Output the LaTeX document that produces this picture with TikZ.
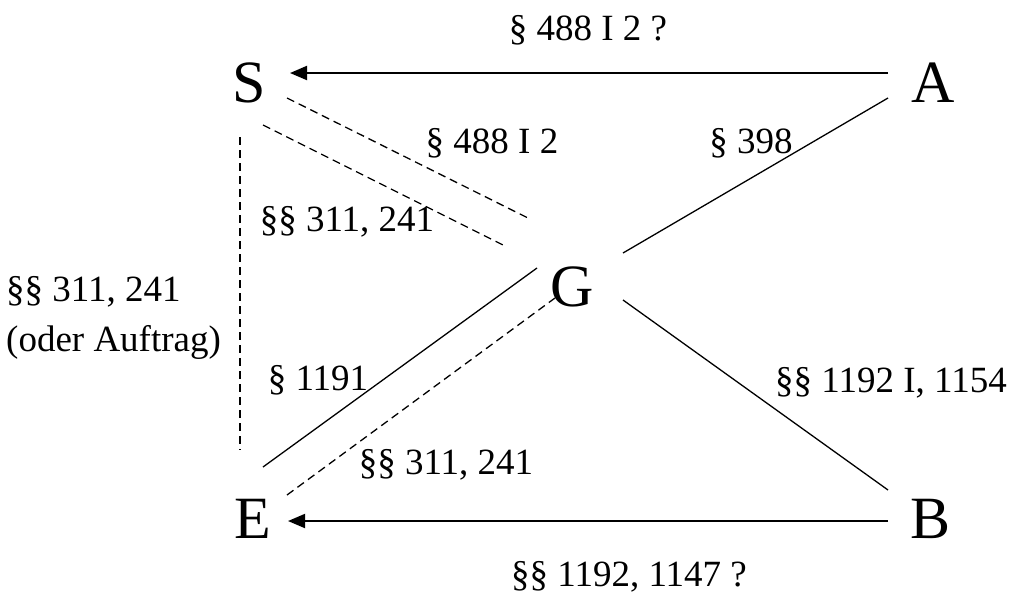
\documentclass[tikz,border=0pt]{standalone}
\usepackage{fontspec}
\setmainfont{Liberation Serif}
\usepackage{tikz}
\usetikzlibrary{arrows.meta,positioning}

\tikzset{
  party/.style={inner sep=0pt, font=\fontsize{60}{60}\selectfont},
  para/.style={inner sep=0pt, font=\fontsize{37}{50}\selectfont},
  claim/.style={line width=1.9pt, -{Triangle[length=17pt,width=14pt]}},
  rel/.style={line width=1.3pt},
  weak/.style={line width=1.3pt, dash pattern=on 8pt off 5pt}
}

\begin{document}
\begin{tikzpicture}[x=1pt, y=-1pt]
  \useasboundingbox (0,0) rectangle (1014,598);

  \node[party] (S) at (249,83) {S};
  \node[party] (A) at (933,83) {A};
  \node[party] (G) at (572,287) {G};
  \node[party] (E) at (253,519) {E};
  \node[party] (B) at (930,519) {B};

  \draw[claim] ([shift={(-45,-10)}]A.center) -- ([shift={(41,-10)}]S.center);
  \draw[claim] ([shift={(-42,2)}]B.center) -- ([shift={(35,2)}]E.center);

  \draw[rel] ([shift={(-45,15)}]A.center) -- ([shift={(51,-34)}]G.center);
  \draw[rel] ([shift={(51,13)}]G.center) -- ([shift={(-42,-29)}]B.center);
  \draw[rel] ([shift={(-35,-19)}]G.center) -- ([shift={(10,-52)}]E.center);

  \draw[weak] ([shift={(34,-24)}]E.center) -- ([shift={(-17,11)}]G.center);
  \draw[weak] ([shift={(38,15)}]S.center) -- ([shift={(-44,-69)}]G.center);
  \draw[weak] ([shift={(14,42)}]S.center) -- ([shift={(-69,-42)}]G.center);
  \draw[weak] ([shift={(-9,54)}]S.center) -- ([shift={(-13,-69)}]E.center);

  \node[para] (lAS) at (588,30) {\S\ 488 I 2 ?};
  \node[para] (lSGa) at (492,143) {\S\ 488 I 2};
  \node[para] (lSGb) at (347,222) {\S\S\ 311, 241};
  \node[para] (lAG) at (751,143) {\S\ 398};
  \node[para, align=left, anchor=west] (lSE) at (6,318) {\S\S\ 311, 241\\(oder Auftrag)};
  \node[para] (lGE) at (318,380) {\S\ 1191};
  \node[para] (lEG) at (446,465) {\S\S\ 311, 241};
  \node[para] (lGB) at (891,383) {\S\S\ 1192 I, 1154};
  \node[para] (lBE) at (629,577) {\S\S\ 1192, 1147 ?};
\end{tikzpicture}
\end{document}
